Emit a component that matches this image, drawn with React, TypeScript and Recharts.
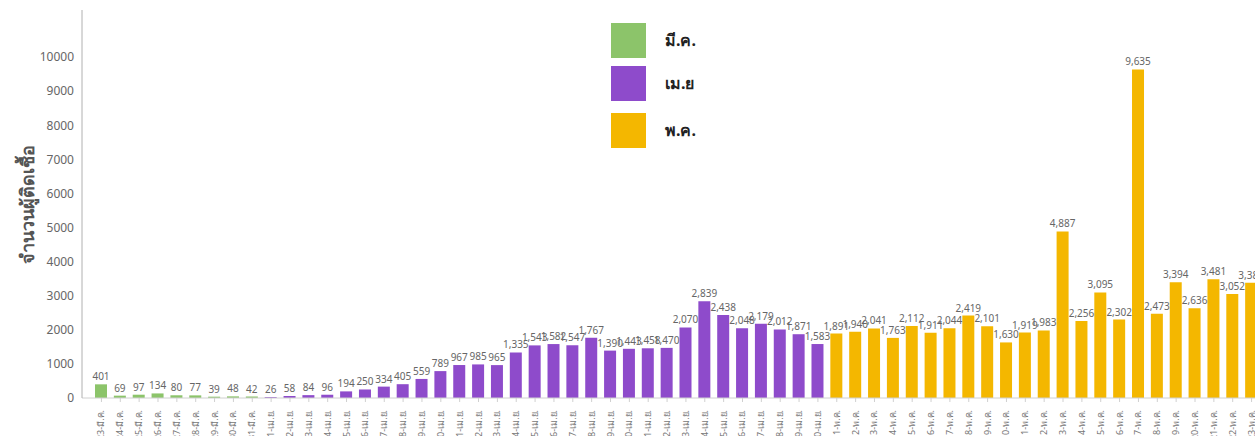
import { Bar, BarChart, Cell, LabelList, XAxis, YAxis } from "recharts"

// daily new infections, 23 Mar - 23 May
const marchValues = [401, 69, 97, 134, 80, 77, 39, 48, 42]
const aprilValues = [
  26, 58, 84, 96, 194, 250, 334, 405, 559, 789, 967, 985, 965, 1335, 1543, 1582, 1547, 1767, 1390, 1443,
  1458, 1470, 2070, 2839, 2438, 2048, 2179, 2012, 1871, 1583,
]
const mayValues = [
  1891, 1940, 2041, 1763, 2112, 1911, 2044, 2419, 2101, 1630, 1919, 1983, 4887, 2256, 3095, 2302, 9635,
  2473, 3394, 2636, 3481, 3052, 3382,
]
const months = [
  { name: "มี.ค.", short: "มี.ค.", firstDay: 23, values: marchValues, color: "#8cc46a" },
  { name: "เม.ย", short: "เม.ย.", firstDay: 1, values: aprilValues, color: "#8e4bcb" },
  { name: "พ.ค.", short: "พ.ค.", firstDay: 1, values: mayValues, color: "#f4b700" },
]
const yTicks = [0, 1000, 2000, 3000, 4000, 5000, 6000, 7000, 8000, 9000, 10000]

const data = months.flatMap((m) =>
  m.values.map((v, i) => ({ day: `${m.firstDay + i}-${m.short}`, cases: v, color: m.color })),
)

const font = "'Noto Sans', 'DejaVu Sans', sans-serif"

function DayTick(props: any) {
  const { x, y, payload } = props
  return (
    <text
      x={x}
      y={y}
      transform={`rotate(-90, ${x}, ${y})`}
      dx={-6}
      dy={3}
      textAnchor="end"
      fontSize={9}
      fill="#777"
      fontFamily={font}
    >
      {payload.value}
    </text>
  )
}

function MonthLegend() {
  const gaps = [0, 8, 12]
  return (
    <div style={{ position: "absolute", left: 611, top: 23 }}>
      {months.map((m, i) => (
        <div key={m.name} style={{ display: "flex", alignItems: "center", marginTop: gaps[i] }}>
          <div style={{ width: 35, height: 35, background: m.color }} />
          <span style={{ marginLeft: 19, fontSize: 16, fontWeight: 700, color: "#222", fontFamily: font }}>
            {m.name}
          </span>
        </div>
      ))}
    </div>
  )
}

export default function App() {
  return (
    <div style={{ position: "absolute", left: 0, top: 0, width: 1255, height: 436, overflow: "hidden", background: "#fff" }}>
      <BarChart width={1275} height={450} data={data} margin={{ top: 10, right: 14, left: 0, bottom: 0 }}>
        <XAxis
          dataKey="day"
          interval={0}
          height={52}
          tick={<DayTick />}
          padding={{ left: 10, right: 0 }}
          axisLine={{ stroke: "#d0d0d0" }}
          tickLine={{ stroke: "#d0d0d0" }}
          tickSize={4}
        />
        <YAxis
          width={82}
          domain={[0, 11380]}
          ticks={yTicks}
          tickLine={false}
          axisLine={{ stroke: "#b0b0b0" }}
          tick={{ fontSize: 12, fill: "#666", fontFamily: font }}
          label={{
            value: "จำนวนผู้ติดเชื้อ",
            angle: -90,
            position: "insideLeft",
            offset: 28,
            style: { textAnchor: "middle", fontSize: 18, fill: "#555", fontFamily: font, fontWeight: 600 },
          }}
        />
        <Bar dataKey="cases" barSize={12} isAnimationActive={false}>
          {data.map((d) => (
            <Cell key={d.day} fill={d.color} />
          ))}
          <LabelList
            dataKey="cases"
            position="top"
            offset={4}
            formatter={(v: any) => Number(v).toLocaleString("en-US")}
            style={{ fontSize: 10, fill: "#666", fontFamily: font }}
          />
        </Bar>
      </BarChart>
      <MonthLegend />
    </div>
  )
}
